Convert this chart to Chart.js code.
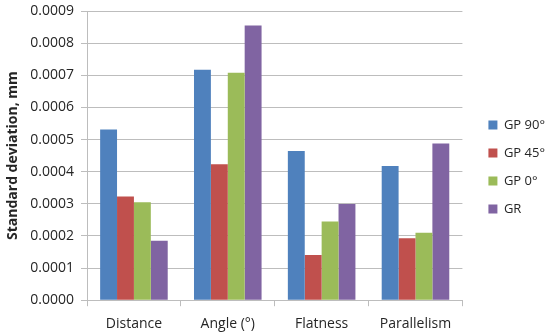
<!DOCTYPE html>
<html>
<head>
<meta charset="utf-8">
<script src="https://cdn.jsdelivr.net/npm/chart.js@4"></script>
<style>
  html, body { margin: 0; padding: 0; background: #fff; }
  #wrap { width: 550px; height: 332px; }
</style>
</head>
<body>
<div id="wrap"><canvas id="chart" width="550" height="332"></canvas></div>
<script>
const categories = ["Distance", "Angle (°)", "Flatness", "Parallelism"];
const seriesNames = ["GP 90°", "GP 45°", "GP 0°", "GR"];
const gp90 = [0.000531, 0.000717, 0.000464, 0.000418];
const gp45 = [0.000323, 0.000423, 0.000141, 0.000193];
const gp0 = [0.000305, 0.000708, 0.000245, 0.000210];
const gr = [0.000185, 0.000855, 0.000299, 0.000488];
const colors = ["#4F81BD", "#C0504D", "#9BBB59", "#8064A2"];

const font = "'Open Sans', 'DejaVu Sans', sans-serif";
const textColor = "#262626";
const gridColor = "#BDBDBD";

const datasets = [gp90, gp45, gp0, gr].map((data, i) => ({
  label: seriesNames[i],
  data,
  backgroundColor: colors[i],
  borderWidth: 0,
  categoryPercentage: 0.72,
  barPercentage: 1,
}));

// the legend sits a bit further from the plot (and a bit higher) than chart.js puts it
const legendShift = {
  id: "legendShift",
  afterLayout(chart) {
    const lg = chart.legend;
    lg.left += 11;
    lg.right += 11;
    lg.top -= 9;
    lg.bottom -= 9;
  },
};

new Chart(document.getElementById("chart"), {
  type: "bar",
  data: { labels: categories, datasets },
  plugins: [legendShift],
  options: {
    responsive: false,
    animation: false,
    layout: { padding: { left: 5, top: 11, right: 6, bottom: -9 } },
    plugins: {
      tooltip: { enabled: false },
      legend: {
        position: "right",
        labels: {
          color: textColor,
          font: { family: font, size: 13 },
          boxWidth: 9,
          boxHeight: 9,
          padding: 15,
        },
      },
    },
    scales: {
      x: {
        grid: { display: true, drawOnChartArea: false, offset: true, color: gridColor, tickLength: 6 },
        border: { color: gridColor },
        ticks: { color: textColor, font: { family: font, size: 14 }, padding: 9 },
      },
      y: {
        min: 0,
        max: 0.0009,
        afterFit: s => { s.width = 82; s.paddingTop = 0; s.paddingBottom = 0; },
        ticks: {
          stepSize: 0.0001,
          color: textColor,
          font: { family: font, size: 14 },
          padding: 7,
          callback: v => Number(v).toFixed(4),
        },
        grid: { color: gridColor, tickLength: 6 },
        border: { color: gridColor },
        title: {
          display: true,
          text: "Standard deviation, mm",
          color: textColor,
          font: { family: font, size: 14, weight: "bold" },
          padding: 0,
        },
      },
    },
  },
});
</script>
</body>
</html>
